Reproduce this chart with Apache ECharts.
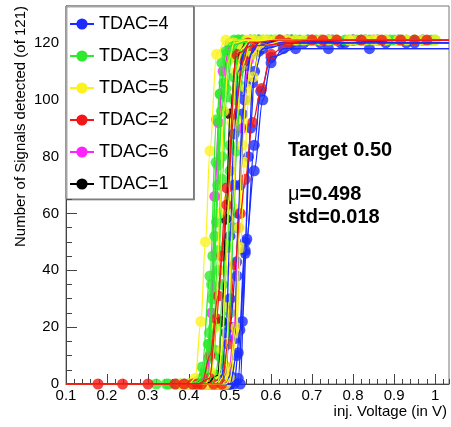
<!DOCTYPE html>
<html>
<head>
<meta charset="utf-8">
<script src="https://cdn.jsdelivr.net/npm/echarts@6/dist/echarts.min.js"></script>
<style>
  html, body { margin: 0; padding: 0; background: #fff; }
  #chart { width: 451px; height: 427px; }
</style>
</head>
<body>
<div id="chart"></div>
<script>
// axis ranges / ticks
var xMin = 0.1, xMax = 1.034;
var yMin = 0, yMax = 133;
var legendNames = ['TDAC=4', 'TDAC=3', 'TDAC=5', 'TDAC=2', 'TDAC=6', 'TDAC=1'];

// scans: [injection voltage, signals detected] per pixel, grouped by TDAC
var tdac4Scans = [
    [[0.46,0],[0.48,3],[0.49,18],[0.50,52],[0.51,88],[0.52,110],[0.54,119],[0.57,121],[0.69,121],[0.83,121]],
    [[0.45,0],[0.47,0],[0.49,6],[0.50,20],[0.516,43],[0.52,60],[0.53,95],[0.54,112],[0.56,119],[0.64,121],[0.77,120],[0.91,121]],
    [[0.47,0],[0.49,0],[0.50,3],[0.512,16],[0.517,38],[0.525,70],[0.535,100],[0.55,116],[0.57,120],[0.68,120],[0.80,121],[0.93,120]],
    [[0.48,0],[0.50,0],[0.516,10],[0.524,19],[0.537,47],[0.545,80],[0.555,106],[0.57,117],[0.60,120],[0.72,120],[0.88,120]],
    [[0.49,0],[0.51,0],[0.52,11],[0.537,50],[0.55,90],[0.56,110],[0.58,118],[0.65,120],[0.78,120],[0.95,120]],
    [[0.50,0],[0.52,2],[0.53,22],[0.541,51],[0.559,84],[0.575,103],[0.60,115],[0.66,118],[0.84,118]],
    [[0.50,0],[0.525,0],[0.537,46],[0.559,75],[0.58,100],[0.60,113],[0.63,118],[0.74,118]],
    [[0.46,0],[0.48,0],[0.49,4],[0.50,30],[0.51,70],[0.52,103],[0.53,116],[0.55,120],[0.62,121],[0.74,121],[0.86,121],[0.97,121]]
];
var tdac3Scans = [
    [[0.32,0],[0.345,0],[0.37,0],[0.40,0],[0.42,1],[0.432,6],[0.451,38],[0.467,93],[0.48,113],[0.50,120],[0.56,121],[0.66,121],[0.79,121],[0.90,121]],
    [[0.38,0],[0.41,0],[0.43,2],[0.447,14],[0.455,35],[0.467,57],[0.476,102],[0.49,117],[0.52,121],[0.61,121],[0.74,121],[0.86,121],[0.99,121]],
    [[0.40,0],[0.43,0],[0.44,3],[0.45,14],[0.46,32],[0.471,77],[0.485,106],[0.50,118],[0.53,121],[0.64,121],[0.76,121],[0.95,121]],
    [[0.43,0],[0.455,0],[0.465,3],[0.473,10],[0.482,35],[0.492,49],[0.50,84],[0.51,108],[0.52,117],[0.55,121],[0.67,121],[0.82,121],[0.97,121]],
    [[0.42,0],[0.445,2],[0.46,20],[0.471,47],[0.48,80],[0.49,104],[0.50,116],[0.52,121],[0.58,121],[0.71,121],[0.88,121]],
    [[0.43,0],[0.45,1],[0.462,12],[0.472,40],[0.481,72],[0.492,101],[0.505,117],[0.53,121],[0.60,121],[0.72,121],[0.84,121],[0.93,121]],
    [[0.45,0],[0.47,0],[0.48,9],[0.494,48],[0.50,75],[0.51,100],[0.52,114],[0.54,120],[0.62,121],[0.75,121],[0.89,121]],
    [[0.46,0],[0.48,0],[0.49,6],[0.50,25],[0.508,55],[0.516,82],[0.525,105],[0.54,117],[0.56,121],[0.65,121],[0.78,121],[0.92,121]],
    [[0.35,0],[0.39,0],[0.42,0],[0.44,4],[0.45,18],[0.458,45],[0.466,78],[0.476,102],[0.49,116],[0.51,121],[0.57,121],[0.69,121],[0.81,121],[1.00,121]],
    [[0.41,0],[0.435,1],[0.448,9],[0.457,30],[0.463,52],[0.47,70],[0.479,96],[0.495,114],[0.515,120],[0.59,121],[0.83,121]]
];
var tdac5Scans = [
    [[0.38,0],[0.40,0],[0.415,2],[0.429,22],[0.44,50],[0.451,82],[0.467,116],[0.49,121],[0.56,121],[0.68,121],[0.80,121],[0.93,121]],
    [[0.44,0],[0.46,0],[0.471,1],[0.48,12],[0.49,40],[0.497,65],[0.505,92],[0.515,110],[0.53,118],[0.55,121],[0.63,121],[0.76,121],[0.88,121]],
    [[0.45,0],[0.47,0],[0.48,2],[0.49,4],[0.497,27],[0.508,62],[0.516,93],[0.53,112],[0.55,120],[0.59,121],[0.70,121],[0.85,121],[0.97,121]],
    [[0.46,0],[0.48,0],[0.49,1],[0.50,6],[0.514,20],[0.522,55],[0.53,84],[0.54,104],[0.555,116],[0.58,121],[0.66,121],[0.79,121],[0.91,121]],
    [[0.47,0],[0.49,0],[0.50,2],[0.516,18],[0.526,48],[0.535,78],[0.545,100],[0.556,108],[0.575,119],[0.64,121],[0.74,121],[0.86,121],[1.00,121]],
    [[0.42,0],[0.44,0],[0.455,4],[0.465,20],[0.475,60],[0.485,96],[0.497,114],[0.51,120],[0.54,121],[0.61,121],[0.72,121],[0.83,121]]
];
var tdac2Scans = [
    [[0.42,0],[0.45,2],[0.467,23],[0.48,45],[0.492,63],[0.51,95],[0.534,114],[0.544,120],[0.622,121],[0.76,121],[0.87,121]],
    [[0.46,0],[0.48,0],[0.495,14],[0.512,42],[0.525,60],[0.537,72],[0.555,92],[0.577,104],[0.60,116],[0.642,120],[0.70,121],[0.82,121],[0.95,121]],
    [[0.178,0],[0.238,0],[0.30,0],[0.366,0],[0.388,0],[0.409,0],[0.431,0],[0.451,10],[0.471,31],[0.492,69],[0.516,116],[0.553,119],[0.727,121],[0.916,121],[0.98,121]]
];
var tdac6Scans = [
    [[0.42,0],[0.445,3],[0.455,25],[0.463,66],[0.472,92],[0.483,110],[0.50,119],[0.55,121],[0.70,121],[0.85,121]],
    [[0.47,0],[0.495,0],[0.51,20],[0.52,55],[0.53,90],[0.545,114],[0.57,120],[0.75,121]]
];
var tdac1Scans = [
    [[0.44,0],[0.47,3],[0.48,22],[0.49,58],[0.50,95],[0.515,115],[0.54,120],[0.65,121],[0.80,121]]
];

var groups = [
    { name: 'TDAC=6', color: '#ff22ff', scans: tdac6Scans },
    { name: 'TDAC=1', color: '#000000', scans: tdac1Scans },
    { name: 'TDAC=4', color: '#1a2cff', scans: tdac4Scans },
    { name: 'TDAC=3', color: '#2eea2e', scans: tdac3Scans },
    { name: 'TDAC=5', color: '#fbf21e', scans: tdac5Scans },
    { name: 'TDAC=2', color: '#f21616', scans: tdac2Scans }
];

var series = [];
groups.forEach(function (g) {
    g.scans.forEach(function (pts) {
        var last = pts[pts.length - 1][1];
        // line across the whole range (fit-like), then the measured points
        series.push({
            type: 'line', name: g.name,
            data: [[xMin, 0]].concat(pts, [[xMax, last]]),
            showSymbol: false, symbol: 'circle',
            smooth: 0.35, smoothMonotone: 'x',
            lineStyle: { color: g.color, width: 1.3 },
            itemStyle: { color: g.color },
            silent: true
        });
        series.push({
            type: 'scatter', name: g.name, data: pts,
            symbol: 'circle', symbolSize: 11,
            itemStyle: { color: g.color },
            silent: true
        });
    });
});
// carrier for the minor-tick grid
series.push({ type: 'scatter', xAxisIndex: 1, yAxisIndex: 1, data: [] });

var font = 'Liberation Sans, Arial, Helvetica, sans-serif';
var chart = echarts.init(document.getElementById('chart'));
chart.setOption({
    animation: false,
    backgroundColor: '#fff',
    textStyle: { fontFamily: font },
    grid: [
        { left: 66, right: 2, top: 6, bottom: 43, show: true, borderColor: '#777', borderWidth: 1, backgroundColor: 'transparent' },
        { left: 66, right: 2, top: 6, bottom: 43 }
    ],
    legend: {
        data: legendNames,
        orient: 'vertical',
        left: 66, top: 6,
        padding: [9, 25, 6, 3],
        itemGap: 14,
        itemWidth: 24, itemHeight: 14,
        selectedMode: false,
        backgroundColor: '#fff',
        borderColor: '#777', borderWidth: 1,
        shadowColor: 'rgba(0,0,0,0.35)', shadowOffsetX: 1, shadowOffsetY: 1,
        textStyle: { fontSize: 18, color: '#000', fontFamily: font }
    },
    xAxis: [
        {
            type: 'value', gridIndex: 0, min: xMin, max: xMax, interval: 0.1,
            axisLine: { lineStyle: { color: '#444' } },
            axisTick: { inside: true, length: 10, lineStyle: { color: '#444' } },
            axisLabel: {
                fontSize: 15, color: '#000', margin: 4, showMaxLabel: false,
                formatter: function (v) { return String(+v.toFixed(1)); }
            },
            splitLine: { show: false }
        },
        {
            type: 'value', gridIndex: 1, min: xMin, max: xMax, interval: 0.02,
            axisLine: { show: false },
            axisTick: { inside: true, length: 5, lineStyle: { color: '#444' } },
            axisLabel: { show: false },
            splitLine: { show: false }
        }
    ],
    yAxis: [
        {
            type: 'value', gridIndex: 0, min: yMin, max: yMax, interval: 20,
            axisLine: { show: true, lineStyle: { color: '#444' } },
            axisTick: { show: true, inside: true, length: 11, lineStyle: { color: '#444' } },
            axisLabel: { fontSize: 15, color: '#000', margin: 7, showMaxLabel: false },
            splitLine: { show: false }
        },
        {
            type: 'value', gridIndex: 1, min: yMin, max: yMax, interval: 5,
            axisLine: { show: false },
            axisTick: { show: true, inside: true, length: 6, lineStyle: { color: '#444' } },
            axisLabel: { show: false },
            splitLine: { show: false }
        }
    ],
    graphic: [
        {
            type: 'text', x: 21, y: 6, rotation: Math.PI / 2,
            style: {
                text: 'Number of Signals detected (of 121)',
                font: '15px ' + font, fill: '#000',
                align: 'right', verticalAlign: 'middle'
            }
        },
        {
            type: 'text', x: 447, y: 412,
            style: {
                text: 'inj. Voltage (in V)',
                font: '15px ' + font, fill: '#000',
                align: 'right', verticalAlign: 'middle'
            }
        },
        {
            type: 'text', x: 288, y: 150,
            style: {
                text: 'Target 0.50',
                font: 'bold 20px ' + font, fill: '#000',
                align: 'left', verticalAlign: 'middle'
            }
        },
        {
            type: 'text', x: 288, y: 194,
            style: {
                text: '{m|μ}{b|=0.498}',
                align: 'left', verticalAlign: 'middle',
                rich: {
                    m: { font: '20px ' + font, fill: '#000' },
                    b: { font: 'bold 20px ' + font, fill: '#000' }
                }
            }
        },
        {
            type: 'text', x: 288, y: 217,
            style: {
                text: 'std=0.018',
                font: 'bold 20px ' + font, fill: '#000',
                align: 'left', verticalAlign: 'middle'
            }
        }
    ],
    series: series
});
</script>
</body>
</html>
